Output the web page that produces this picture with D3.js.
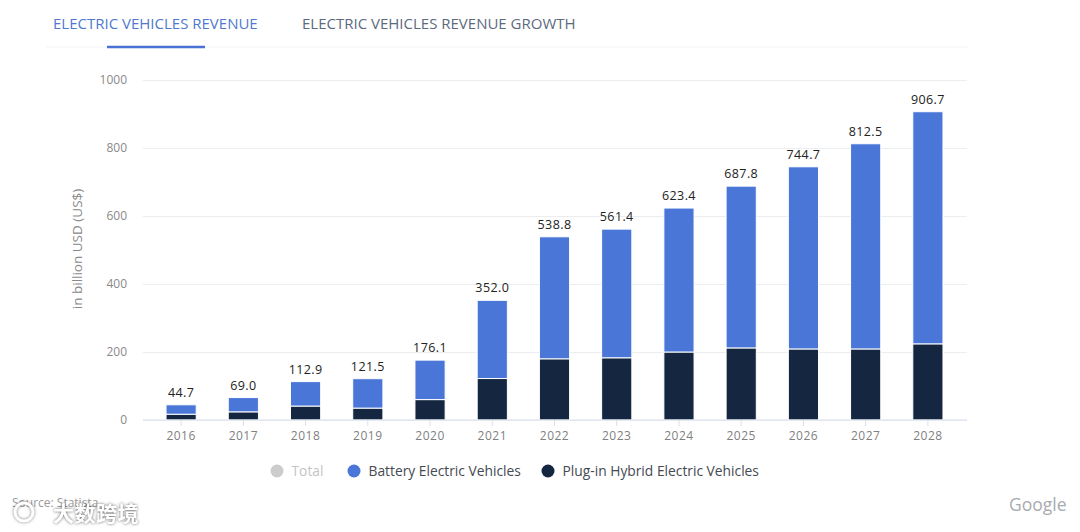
<!DOCTYPE html>
<html>
<head>
<meta charset="utf-8">
<script src="https://cdn.jsdelivr.net/npm/d3@7"></script>
<style>
  html, body { margin: 0; padding: 0; background: #fff; }
  text { font-family: "Open Sans", "Noto Sans", sans-serif; }
</style>
</head>
<body>
<div id="chart"></div>
<script>
const years = ['2016','2017','2018','2019','2020','2021','2022','2023','2024','2025','2026','2027','2028'];
const totals = [44.7, 69.0, 112.9, 121.5, 176.1, 352.0, 538.8, 561.4, 623.4, 687.8, 744.7, 812.5, 906.7];
const plugin = [17, 24, 41, 35, 60, 122, 180, 183, 200, 212, 209, 209, 224];
const battery = [27.7, 42.0, 71.9, 86.5, 116.1, 230.0, 358.8, 378.4, 423.4, 475.8, 535.7, 603.5, 682.7];
const yTicks = [0, 200, 400, 600, 800, 1000];
const tabs = ['ELECTRIC VEHICLES REVENUE', 'ELECTRIC VEHICLES REVENUE GROWTH'];
const legendItems = ['Total', 'Battery Electric Vehicles', 'Plug-in Hybrid Electric Vehicles'];

const blue = '#4a76d8';
const navy = '#152740';

const svg = d3.select('#chart').append('svg')
    .attr('width', 1080)
    .attr('height', 532)
    .style('display', 'block');

// tabs
svg.append('text').attr('x', 53).attr('y', 29).attr('font-size', 15).attr('font-weight', 500)
    .attr('fill', '#4f79cf').text(tabs[0]);
svg.append('text').attr('x', 302).attr('y', 29).attr('font-size', 15).attr('font-weight', 500)
    .attr('fill', '#5c6a80').text(tabs[1]);
svg.append('line').attr('x1', 46).attr('x2', 968).attr('y1', 47).attr('y2', 47)
    .attr('stroke', '#f3f5f9').attr('stroke-width', 1);
svg.append('line').attr('x1', 107).attr('x2', 205).attr('y1', 47).attr('y2', 47)
    .attr('stroke', '#4a72d4').attr('stroke-width', 2.5);

const x = d3.scaleBand().domain(years).range([150, 959]).paddingInner(0.515).paddingOuter(0.2575);
const y = d3.scaleLinear().domain([0, 1000]).range([420, 80]);

// y axis + grid
const yAxis = svg.append('g').attr('transform', 'translate(143,0)')
    .call(d3.axisLeft(y).tickValues(yTicks).tickSize(-824).tickPadding(16).tickFormat(d3.format('d')));
yAxis.select('.domain').remove();
yAxis.selectAll('line').attr('stroke', '#ebedf1');
yAxis.selectAll('text').attr('font-size', 12).attr('fill', '#8a8a8a');

svg.append('text')
    .attr('transform', 'translate(82,249) rotate(-90)')
    .attr('text-anchor', 'middle').attr('font-size', 13.5).attr('fill', '#8a8a8a')
    .text('in billion USD (US$)');

// bars
svg.append('g').selectAll('rect').data(years).join('rect')
    .attr('x', d => x(d))
    .attr('width', x.bandwidth())
    .attr('y', (d, i) => y(plugin[i]))
    .attr('height', (d, i) => y(0) - y(plugin[i]))
    .attr('fill', navy)
    .attr('stroke', '#fff');
svg.append('g').selectAll('rect').data(years).join('rect')
    .attr('x', d => x(d))
    .attr('width', x.bandwidth())
    .attr('y', (d, i) => y(plugin[i] + battery[i]))
    .attr('height', (d, i) => y(plugin[i]) - y(plugin[i] + battery[i]))
    .attr('fill', blue)
    .attr('stroke', '#fff');

// x axis
const xAxis = svg.append('g').attr('transform', 'translate(0,420)')
    .call(d3.axisBottom(x).tickSize(6).tickPadding(5).tickSizeOuter(0));
xAxis.select('.domain').attr('stroke', '#d8dfec').attr('stroke-width', 1.2)
    .attr('d', 'M143,0H967');
xAxis.selectAll('line').attr('stroke', '#d8dfec');
xAxis.selectAll('text').attr('font-size', 12).attr('fill', '#7f7f7f').attr('letter-spacing', 0.5);

// total labels
svg.append('g').selectAll('text').data(years).join('text')
    .attr('x', d => x(d) + x.bandwidth() / 2)
    .attr('y', (d, i) => y(plugin[i] + battery[i]) - 8)
    .attr('text-anchor', 'middle').attr('font-size', 12.5).attr('font-weight', 500)
    .attr('fill', '#222').attr('letter-spacing', 0.4)
    .text((d, i) => totals[i].toFixed(1));

// legend
const legendX = [277, 354, 548];
const legendColors = ['#cccccc', blue, navy];
const legendText = ['#c4c4c4', '#444a52', '#444a52'];
legendItems.forEach((d, i) => {
    svg.append('circle').attr('cx', legendX[i]).attr('cy', 471).attr('r', 6.5).attr('fill', legendColors[i]);
    svg.append('text').attr('x', legendX[i] + 14.5).attr('y', 476).attr('font-size', 13.8)
        .attr('font-weight', 500).attr('fill', legendText[i]).text(d);
});

// source, watermark, google
svg.append('text').attr('x', 12).attr('y', 507).attr('font-size', 12).attr('fill', '#9a9a9a').text('Source: Statista');
svg.append('text').attr('x', 53).attr('y', 521).attr('font-size', 21)
    .attr('letter-spacing', 0.5).attr('fill', '#fff')
    .style('font-family', '"Noto Sans CJK SC"').attr('font-weight', 700)
    .style('filter', 'drop-shadow(0 0 1.5px rgba(0,0,0,.6))').text('大数跨境');
svg.append('circle').attr('cx', 24).attr('cy', 512).attr('r', 9).attr('fill', 'none')
    .attr('stroke', '#fff').attr('stroke-width', 3)
    .style('filter', 'drop-shadow(0 0 1.5px rgba(0,0,0,.5))');
svg.append('text').attr('x', 1009).attr('y', 511).attr('font-size', 17.5)
    .attr('fill', '#a7abb0').text('Google');
</script>
</body>
</html>
